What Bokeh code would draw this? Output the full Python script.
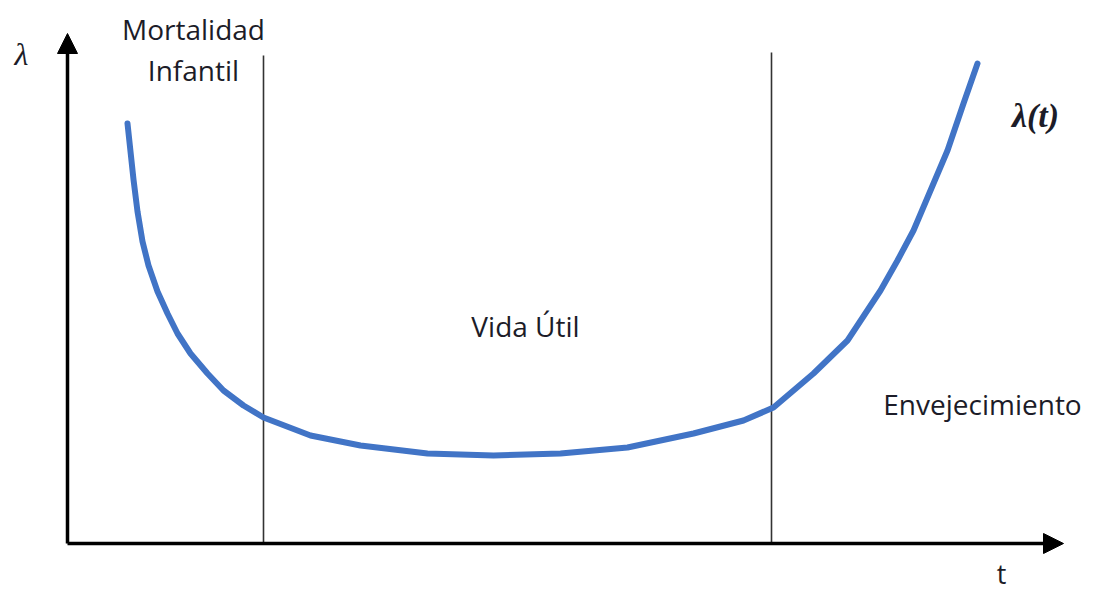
from bokeh.plotting import figure
from bokeh.models import Range1d, Label, Arrow, NormalHead
from bokeh.embed import file_html
from bokeh.resources import INLINE

# Bathtub curve (t, lambda), arbitrary units
t_vals = [60, 63, 66, 70, 75, 81, 90, 100, 110, 123, 140, 156, 176, 196, 243,
          293, 360, 426, 493, 560, 626, 676, 706, 746, 780, 813, 830,
          846, 863, 880, 896, 910]
lam_vals = [420, 392, 364, 332, 302, 278, 252, 230, 210, 190, 170, 153, 138,
            126, 108, 98, 90, 88, 90, 96, 110, 123, 136, 170, 203, 253, 283,
            313, 353, 393, 440, 480]

# phase boundaries
boundary_t = [196, 704]
boundary_top = [488, 491]

t_axis_end = 996
lam_axis_end = 510

phase_labels = ["Mortalidad", "Infantil", "Vida Útil", "Envejecimiento"]

p = figure(width=1095, height=596, output_backend="svg", toolbar_location=None,
           x_range=Range1d(-67, 1028), y_range=Range1d(-53, 543),
           min_border=0, outline_line_color=None)
p.xaxis.visible = False
p.yaxis.visible = False
p.xgrid.visible = False
p.ygrid.visible = False
p.background_fill_color = "white"
p.border_fill_color = "white"

# boundaries
p.segment(x0=boundary_t, y0=[0, 0], x1=boundary_t, y1=boundary_top,
          line_color="#333333", line_width=1.6)

# curve
p.line(t_vals, lam_vals, line_color="#4174C6", line_width=6,
       line_cap="round", line_join="round")

# axes with arrows
p.add_layout(Arrow(end=NormalHead(size=20, fill_color="black", line_color="black"),
                   x_start=0, y_start=0, x_end=t_axis_end, y_end=0,
                   line_width=3.5, line_color="black"))
p.add_layout(Arrow(end=NormalHead(size=20, fill_color="black", line_color="black"),
                   x_start=0, y_start=0, x_end=0, y_end=lam_axis_end,
                   line_width=3.5, line_color="black"))

txt = "#1c1c28"
font = "Open Sans"
def lab(x, y, s, size, fnt=font, style="normal", align="center"):
    p.add_layout(Label(x=x, y=y, text=s, text_font=fnt, text_font_size=size,
                       text_font_style=style, text_color=txt,
                       text_align=align, text_baseline="middle"))

lab(126, 515, phase_labels[0], "28px")
lab(126, 474, phase_labels[1], "28px")
lab(458, 218, phase_labels[2], "28px")
lab(915, 140, phase_labels[3], "28px")
lab(968, 428, "λ(t)", "34px", fnt="Liberation Serif", style="bold italic")
lab(-46, 490, "λ", "32px", fnt="Liberation Serif", style="italic")
lab(934, -30, "t", "27px")

open("out.html", "w").write(file_html(p, INLINE))
